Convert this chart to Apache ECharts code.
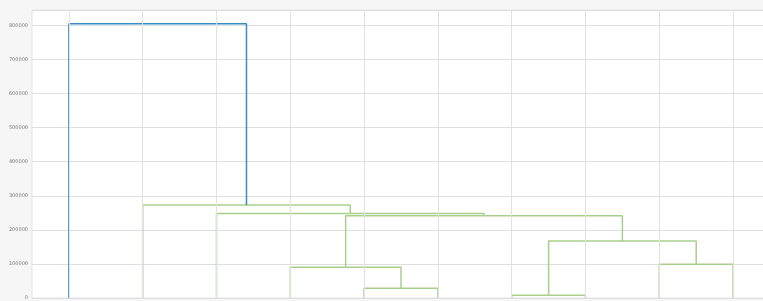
<!DOCTYPE html>
<html>
<head>
<meta charset="utf-8">
<script src="https://cdn.jsdelivr.net/npm/echarts@6/dist/echarts.min.js"></script>
<style>
html,body{margin:0;padding:0;background:#f6f6f6;overflow:hidden;}
#chart{width:763px;height:301px;}
</style>
</head>
<body>
<div id="chart"></div>
<script>
// Leaves in dendrogram order
const leaves = ['0','1','2','3','4','5','6','7','8','9'];
// Merges (scipy-style): node ids 0..9 are leaves, merge k creates node 10+k
const mergeLeft = [6, 4, 8, 3, 10, 13, 2, 1, 0];
const mergeRight = [7, 5, 9, 11, 12, 14, 15, 16, 17];
const mergeHeight = [7900, 28500, 99100, 90300, 167600, 241000, 248000, 272600, 805000];
const yTicks = [0, 100000, 200000, 300000, 400000, 500000, 600000, 700000, 800000];

const colorThreshold = 0.7 * Math.max(...mergeHeight);
const aboveColor = '#3a8cc4';
const clusterColor = '#a9cf8c';

const nodeX = leaves.map((_, i) => 10 * i + 5);
const nodeH = leaves.map(() => 0);
const series = [];
mergeHeight.forEach((h, k) => {
  const l = mergeLeft[k], r = mergeRight[k];
  const xl = nodeX[l], xr = nodeX[r];
  nodeX.push((xl + xr) / 2);
  nodeH.push(h);
  series.push({
    type: 'line',
    data: [[xl, nodeH[l]], [xl, h], [xr, h], [xr, nodeH[r]]],
    symbol: 'none',
    silent: true,
    animation: false,
    z: 3,
    lineStyle: { color: h > colorThreshold ? aboveColor : clusterColor, width: 1.5 }
  });
});
// vertical grid lines at leaf positions
series.push({
  type: 'line',
  data: [],
  silent: true,
  animation: false,
  z: 1,
  markLine: {
    silent: true,
    symbol: 'none',
    label: { show: false },
    animation: false,
    lineStyle: { color: '#e2e2e2', width: 1, type: 'solid' },
    data: leaves.map((_, i) => ({ xAxis: 10 * i + 5 }))
  }
});

const chart = echarts.init(document.getElementById('chart'));
chart.setOption({
  backgroundColor: '#f6f6f6',
  animation: false,
  grid: {
    left: 32, top: 10, width: 738, height: 288,
    outerBoundsMode: 'none', containLabel: false,
    show: true, backgroundColor: '#ffffff', borderColor: '#e4e4e4', borderWidth: 1
  },
  xAxis: {
    type: 'value', min: 0, max: 100,
    axisLine: { show: false }, axisTick: { show: false },
    axisLabel: { show: false }, splitLine: { show: false }
  },
  yAxis: {
    type: 'value', min: 0, max: 845000, interval: 100000,
    axisLine: { show: false }, axisTick: { show: false },
    axisLabel: {
      fontSize: 5, color: '#777', margin: 4, fontFamily: 'DejaVu Sans',
      formatter: v => (yTicks.includes(v) ? String(v) : '')
    },
    splitLine: { lineStyle: { color: '#dedede', width: 1 } }
  },
  series: series
});
</script>
</body>
</html>
